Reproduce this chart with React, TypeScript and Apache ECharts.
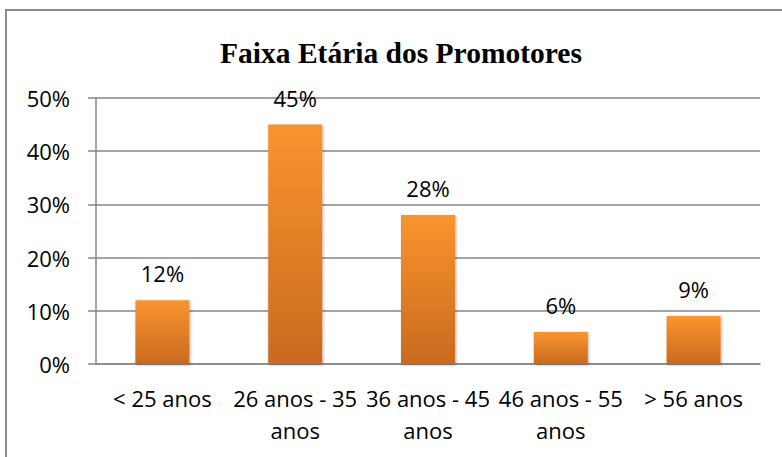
import React, { useEffect, useRef } from "react";
import * as echarts from "echarts";

const categories = ["< 25 anos", "26 anos - 35\nanos", "36 anos - 45\nanos", "46 anos - 55\nanos", "> 56 anos"];
const values = [12, 45, 28, 6, 9];
const titleText = "Faixa Etária dos Promotores";

export default function App() {
  const ref = useRef<HTMLDivElement>(null);
  useEffect(() => {
    if (!ref.current) return;
    const chart = echarts.init(ref.current, null, { renderer: "svg" });
    const font = "'Open Sans', sans-serif";
    chart.setOption({
      animation: false,
      backgroundColor: "#ffffff",
      title: {
        text: titleText,
        left: 396,
        top: 33,
        textAlign: "center",
        textStyle: {
          fontFamily: "'Liberation Serif', 'Times New Roman', serif",
          fontWeight: "bold",
          fontSize: 29.5,
          color: "#000",
        },
      },
      graphic: [
        {
          type: "rect",
          shape: { x: 6, y: 10, width: 900, height: 600 },
          style: { fill: "none", stroke: "#8a8a8a", lineWidth: 2 },
          silent: true,
        },
      ],
      grid: { left: 96, right: 22, top: 98, bottom: 93 },
      xAxis: {
        type: "category",
        data: categories,
        axisLine: { lineStyle: { color: "#868686", width: 1.5 } },
        axisTick: { length: 8, lineStyle: { color: "#868686", width: 1.5 } },
        axisLabel: {
          interval: 0,
          margin: 18,
          fontFamily: font,
          fontSize: 22,
          lineHeight: 32,
          color: "#000",
        },
      },
      yAxis: {
        type: "value",
        min: 0,
        max: 50,
        interval: 10,
        axisLine: { show: true, lineStyle: { color: "#868686", width: 1.5 } },
        axisTick: { show: true, length: 8, lineStyle: { color: "#868686", width: 1.5 } },
        splitLine: { lineStyle: { color: "#868686", width: 1.5 } },
        axisLabel: {
          formatter: "{value}%",
          margin: 26,
          fontFamily: font,
          fontSize: 22,
          color: "#000",
        },
      },
      series: [
        {
          type: "bar",
          data: values,
          barWidth: 54,
          itemStyle: {
            color: new echarts.graphic.LinearGradient(0, 0, 0, 1, [
              { offset: 0, color: "#FA942F" },
              { offset: 1, color: "#C96A1F" },
            ]),
            shadowBlur: 3,
            shadowColor: "rgba(0,0,0,0.3)",
            shadowOffsetX: 1,
            shadowOffsetY: 1,
          },
          label: {
            show: true,
            position: "top",
            distance: 16,
            formatter: "{c}%",
            fontFamily: font,
            fontSize: 22,
            lineHeight: 22,
            color: "#000",
          },
        },
      ],
    });
    return () => chart.dispose();
  }, []);
  return (
    <div
      ref={ref}
      style={{ position: "fixed", left: 0, top: 0, width: 782, height: 457 }}
    />
  );
}
